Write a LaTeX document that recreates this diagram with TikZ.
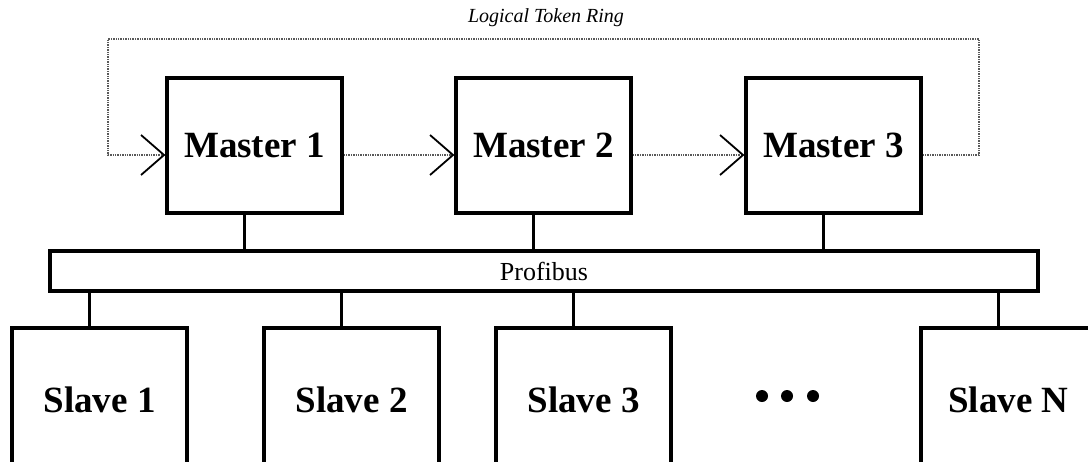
\documentclass[tikz,border=0pt]{standalone}
\usepackage{fontspec}
\setmainfont{Liberation Serif}
\usetikzlibrary{arrows.meta}
\begin{document}
\begin{tikzpicture}[x=1pt,y=-1pt,
  unitbox/.style={draw=black, line width=3.2pt, fill=white, minimum width=175pt,
    font=\fontsize{37}{40}\selectfont\bfseries, inner sep=0pt},
  masterbox/.style={unitbox, minimum height=135pt},
  slavebox/.style={unitbox, minimum height=144pt},
  busbox/.style={draw=black, line width=3.2pt, minimum width=988pt, minimum height=40pt,
    font=\fontsize{26}{28}\selectfont, inner sep=0pt},
  link/.style={draw=black, line width=2.2pt},
  ring/.style={draw=black!65, line width=1.4pt, densely dotted},
  tok/.style={ring, -{Straight Barb[black, length=23pt, width=40pt, line width=1.8pt]}},
  dot/.style={circle, fill=black, minimum size=12pt, inner sep=0pt}
]
\useasboundingbox (0,0) rectangle (1088,461);
\clip (0,0) rectangle (1088,461);

% ring label
\node[font=\fontsize{20}{22}\selectfont\itshape] (ringlabel) at (546,18) {Logical Token Ring};

% masters
\node[masterbox] (m1) at (254.5,145.5) {Master 1};
\node[masterbox] (m2) at (543.5,145.5) {Master 2};
\node[masterbox] (m3) at (833.5,145.5) {Master 3};

% field bus
\node[busbox] (bus) at (544,271) {Profibus};

% slaves
\node[slavebox] (s1) at (99.5,400) {Slave 1};
\node[slavebox] (s2) at (351.5,400) {Slave 2};
\node[slavebox] (s3) at (583.5,400) {Slave 3};
\node[slavebox] (sn) at (1008.5,400) {Slave N};

% ellipsis
\node[dot] (d1) at (762,396) {};
\node[dot] (d2) at (787,396) {};
\node[dot] (d3) at (813,396) {};

% token ring path
\coordinate (ry) at (0,155);
\coordinate (rtop) at (0,39);
\coordinate (rleft) at (108,0);
\coordinate (rright) at (979,0);
\draw[tok] (m1.east |- ry) -- (m2.west |- ry);
\draw[tok] (m2.east |- ry) -- (m3.west |- ry);
\draw[tok] (m3.east |- ry) -- (rright |- ry) -- (rright |- rtop)
  -- (rleft |- rtop) -- (rleft |- ry) -- (m1.west |- ry);

% bus drops
\foreach \m in {m1,m2,m3}
  \draw[link] ([xshift=-10pt]\m.south) -- ([xshift=-10pt]\m.south |- bus.north);
\foreach \s in {s1,s2,s3,sn}
  \draw[link] ([xshift=-10pt]\s.north) -- ([xshift=-10pt]\s.north |- bus.south);
\end{tikzpicture}
\end{document}
